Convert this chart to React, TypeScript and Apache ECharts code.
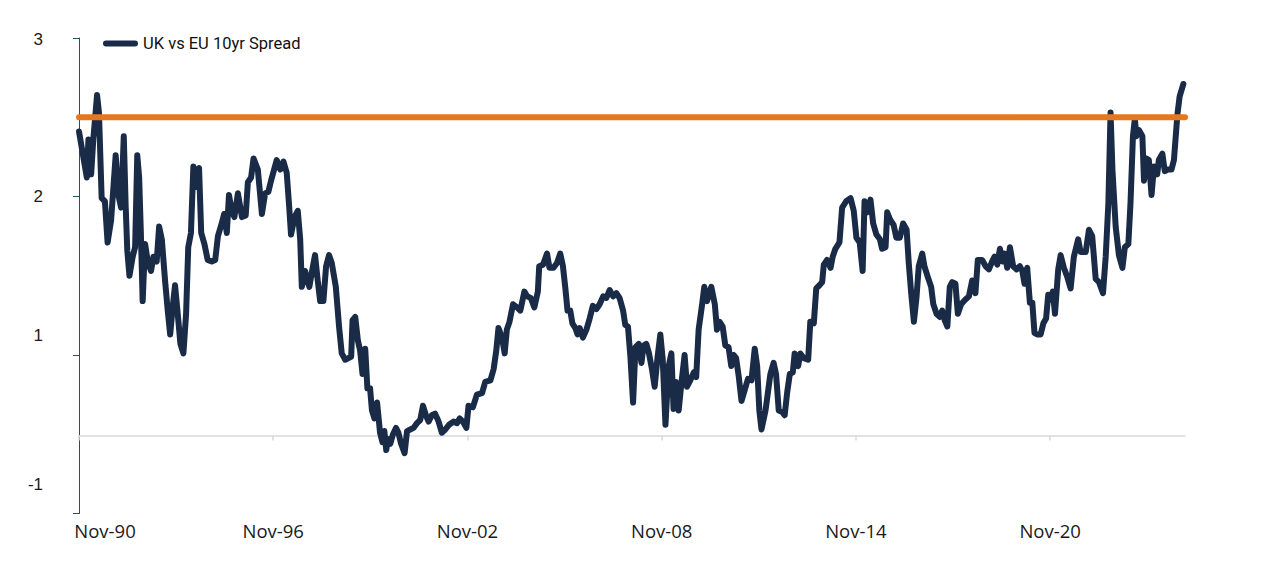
import React, { useEffect, useRef } from "react";
import * as echarts from "echarts";

// x = months since Nov-1990, y = spread (pct points)
const spread1990s: [number, number][] = [
  [0, 2.41], [2.9, 2.12], [3.5, 2.36], [4.5, 2.14], [5.3, 2.36], [6.7, 2.64], [7.4, 2.53], [8.4, 1.99], [9.6, 1.97], [10.6, 1.71],
  [11.9, 1.85], [13.6, 2.26], [14.6, 2.01], [15.6, 1.93], [16.6, 2.38], [17.3, 1.94], [17.9, 1.66], [18.7, 1.5], [19.9, 1.62], [20.8, 1.68],
  [21.6, 2.26], [22.3, 2.12], [22.9, 1.79], [23.6, 1.34], [24.5, 1.7], [25.5, 1.59], [26.7, 1.53], [27.6, 1.62], [28.8, 1.59], [29.7, 1.81],
  [30.7, 1.73], [31.9, 1.47], [32.9, 1.28], [33.8, 1.13], [34.6, 1.28], [35.6, 1.44], [36.6, 1.26], [37.6, 1.07], [38.7, 1.01], [39.7, 1.26],
  [40.5, 1.68], [41.5, 1.77], [42.4, 2.19], [43.3, 2.06], [44.5, 2.18], [45.3, 1.77], [46.5, 1.7], [47.7, 1.6], [49.2, 1.59], [50.5, 1.6],
  [51.5, 1.75], [52.9, 1.83], [53.8, 1.89], [54.8, 1.77], [55.6, 2.01], [56.6, 1.91], [57.6, 1.87], [58.9, 2.02], [60.4, 1.87], [61.8, 1.88],
  [62.6, 2.09], [63.8, 2.12], [64.7, 2.24], [66.3, 2.17], [67.8, 1.89], [69.0, 2.02], [70.2, 2.03], [71.2, 2.1], [73.3, 2.23],
];

const spreadLate90s: [number, number][] = [
  [74.6, 2.17], [75.8, 2.22], [77.0, 2.15], [77.9, 1.94], [78.6, 1.76], [79.9, 1.87], [81.1, 1.91], [82.0, 1.73], [82.6, 1.43], [83.8, 1.53],
  [85.4, 1.43], [86.3, 1.52], [87.5, 1.63], [88.5, 1.47], [89.4, 1.34], [90.6, 1.34], [91.6, 1.56], [92.7, 1.63], [93.7, 1.58], [95.2, 1.43],
  [96.4, 1.18], [97.4, 1.01], [98.7, 0.97], [99.9, 0.98], [100.9, 0.99], [101.4, 1.22], [102.4, 1.24], [103.4, 1.09], [104.2, 1.03], [105.1, 0.88],
  [106.1, 1.04], [106.9, 0.79], [107.9, 0.79], [108.6, 0.65], [109.5, 0.6], [110.5, 0.7], [111.6, 0.51], [112.5, 0.45], [113.2, 0.52], [113.9, 0.4],
  [114.5, 0.47], [115.4, 0.44], [116.4, 0.5], [117.5, 0.54], [118.4, 0.51], [119.4, 0.44], [120.7, 0.38], [121.6, 0.52], [122.8, 0.53], [124.0, 0.54],
  [125.3, 0.57], [126.5, 0.59], [127.5, 0.68], [128.6, 0.62], [129.6, 0.58], [130.8, 0.62], [132.0, 0.63], [133.3, 0.58], [134.5, 0.51], [135.8, 0.53],
  [137.2, 0.56], [138.8, 0.58], [140.1, 0.57], [141.1, 0.6], [142.3, 0.58], [143.6, 0.54], [144.4, 0.68],
];

const spread2000s: [number, number][] = [
  [146.0, 0.67], [147.5, 0.75], [149.4, 0.76], [150.6, 0.83], [152.5, 0.84], [153.7, 0.91], [154.7, 1.03], [155.5, 1.17], [156.8, 1.11], [157.8, 1.01],
  [158.6, 1.16], [159.6, 1.21], [160.9, 1.32], [162.4, 1.3], [163.6, 1.28], [165.1, 1.4], [166.1, 1.37], [167.5, 1.36], [168.8, 1.3], [170.1, 1.4],
  [170.6, 1.56], [172.0, 1.57], [173.5, 1.64], [174.4, 1.55], [175.9, 1.55], [177.2, 1.58], [178.4, 1.64], [179.4, 1.56], [180.3, 1.42], [181.1, 1.28],
  [182.1, 1.28], [182.9, 1.2], [184.0, 1.17], [184.8, 1.13], [185.6, 1.17], [186.8, 1.11], [188.1, 1.16], [189.3, 1.23], [190.5, 1.31], [191.8, 1.29],
  [193.0, 1.32], [194.3, 1.37], [195.5, 1.36], [196.7, 1.41], [198.0, 1.37], [199.2, 1.39], [200.4, 1.36], [201.7, 1.28], [202.5, 1.19], [203.5, 1.18],
  [204.4, 0.99], [205.4, 0.7], [206.3, 1.05], [207.5, 1.07], [208.5, 0.95], [209.3, 1.06], [210.3, 1.07], [211.3, 1.01], [212.4, 0.91], [213.4, 0.8],
  [214.5, 0.99], [215.5, 1.13], [216.4, 0.97], [217.4, 0.56],
];

const spread2010s: [number, number][] = [
  [218.6, 0.93], [219.6, 1.01], [220.4, 0.66], [221.3, 0.83], [222.3, 0.65], [223.3, 0.82], [224.5, 1.0], [225.4, 0.8], [226.6, 0.84], [227.9, 0.89],
  [228.8, 0.86], [229.7, 1.16], [231.0, 1.32], [231.8, 1.43], [232.8, 1.34], [234.4, 1.43], [235.7, 1.32], [236.5, 1.16], [237.5, 1.21], [238.6, 1.18],
  [239.6, 1.06], [240.8, 1.05], [241.8, 0.93], [242.7, 1.0], [243.6, 0.98], [244.6, 0.86], [245.6, 0.71], [246.8, 0.78], [248.0, 0.85], [249.3, 0.84],
  [250.5, 1.04], [251.4, 0.93], [252.2, 0.65], [253.0, 0.53], [254.5, 0.65], [256.3, 0.88], [257.5, 0.95], [258.4, 0.88], [259.4, 0.65], [260.7, 0.64],
  [261.6, 0.62], [262.5, 0.76], [263.5, 0.88], [264.6, 0.89], [265.3, 1.01], [266.6, 0.93], [267.4, 1.01], [268.7, 0.98], [270.3, 0.97], [271.1, 1.21],
  [272.4, 1.2], [273.3, 1.42], [274.5, 1.44], [275.5, 1.46], [276.1, 1.57], [277.3, 1.6], [278.6, 1.55], [279.4, 1.62], [280.4, 1.67], [281.9, 1.71],
  [282.9, 1.93], [284.4, 1.97], [286.0, 1.99], [287.2, 1.91], [288.2, 1.74], [289.4, 1.71], [290.5, 1.53], [291.2, 1.97],
];

const spreadLate10s: [number, number][] = [
  [292.2, 1.9], [293.4, 1.98], [294.4, 1.83], [295.6, 1.76], [296.9, 1.73], [297.7, 1.67], [299.0, 1.68], [299.6, 1.9], [300.8, 1.85], [302.0, 1.82],
  [303.0, 1.74], [304.3, 1.74], [305.5, 1.83], [306.8, 1.79], [307.6, 1.58], [308.5, 1.39], [309.5, 1.21], [310.5, 1.37], [311.3, 1.56], [312.6, 1.64],
  [313.4, 1.56], [314.7, 1.49], [315.9, 1.43], [316.7, 1.32], [317.9, 1.26], [319.1, 1.24], [320.0, 1.28], [320.9, 1.22], [321.9, 1.18], [322.8, 1.43],
  [323.7, 1.46], [324.9, 1.45], [325.8, 1.26], [327.0, 1.32], [328.6, 1.35], [329.9, 1.37], [331.1, 1.47], [332.3, 1.39], [333.2, 1.6], [334.8, 1.6],
  [336.1, 1.56], [337.3, 1.54], [338.5, 1.59], [339.4, 1.62], [340.4, 1.57], [341.4, 1.67], [342.3, 1.59], [343.1, 1.64], [344.1, 1.55], [345.1, 1.68],
  [346.3, 1.56], [347.6, 1.54], [348.8, 1.56], [349.7, 1.53], [350.5, 1.45], [351.5, 1.55], [352.5, 1.33], [353.4, 1.33], [354.2, 1.14], [355.2, 1.13],
  [356.5, 1.13], [357.5, 1.2], [358.5, 1.23], [359.3, 1.38], [360.2, 1.35], [361.0, 1.4], [361.8, 1.26],
];

const spread2020s: [number, number][] = [
  [363.0, 1.54], [363.9, 1.63], [365.1, 1.55], [366.4, 1.49], [367.6, 1.42], [368.8, 1.62], [370.4, 1.73], [371.3, 1.65], [373.2, 1.65], [374.4, 1.79],
  [375.6, 1.75], [376.9, 1.48], [378.1, 1.46], [379.6, 1.39], [380.6, 1.62], [381.6, 1.96], [382.4, 2.53], [383.1, 2.17], [384.3, 1.81], [385.5, 1.63],
  [386.8, 1.55], [387.7, 1.68], [389.0, 1.7], [389.8, 1.96], [390.7, 2.38], [391.4, 2.49], [392.0, 2.38], [392.9, 2.42], [394.2, 2.38], [394.8, 2.1],
  [395.7, 2.24], [396.6, 2.23], [397.6, 2.01], [398.5, 2.19], [399.7, 2.14], [400.3, 2.23], [401.6, 2.27], [402.5, 2.16], [403.5, 2.17], [405.0, 2.17],
  [405.9, 2.23], [407.2, 2.52], [408.0, 2.63], [409.4, 2.71],
];

const seriesName = "UK vs EU 10yr Spread";
const threshold = 2.5;
const xTickMonths = [0, 72, 144, 216, 288, 360];
const xTickLabels = ["Nov-90", "Nov-96", "Nov-02", "Nov-08", "Nov-14", "Nov-20"];
const yTickValues = [0, 1, 2, 3];
const yTickLabels = ["-1", "1", "2", "3"];
const xMax = 410;

const NAVY = "#1A2B47";
const ORANGE = "#E8771C";
const AXIS_TEAL = "#22515F";
const GRAY = "#D9D9D9";

export default function App() {
  const ref = useRef<HTMLDivElement>(null);

  useEffect(() => {
    if (!ref.current) return;
    const chart = echarts.init(ref.current, undefined, { renderer: "svg" });
    const spread = [
      ...spread1990s,
      ...spreadLate90s,
      ...spread2000s,
      ...spread2010s,
      ...spreadLate10s,
      ...spread2020s,
    ];
    const yRichKey = ["b", "u", "m", "t"];
    const labelFont = { fontFamily: "Liberation Sans", fontSize: 17, color: "#1a1a1a" };
    const xFont = { fontFamily: "Open Sans", fontSize: 18.5, color: "#1a1a1a" };

    chart.setOption({
      animation: false,
      backgroundColor: "#ffffff",
      grid: { left: 79, right: 78, top: 38, bottom: 50.5, containLabel: false },
      legend: {
        show: true,
        data: [seriesName],
        left: 103,
        top: 35,
        padding: 0,
        icon: "path://M3,0 H32 A3,3 0 0 1 32,6 H3 A3,3 0 0 1 3,0 Z",
        itemWidth: 35,
        itemHeight: 7,
        textStyle: { fontFamily: "Roboto", fontSize: 16.5, color: "#111111" },
      },
      xAxis: [
        {
          type: "value",
          min: 0,
          max: xMax,
          position: "bottom",
          axisLine: { show: false, onZero: false },
          axisTick: { show: false },
          splitLine: { show: false },
          axisLabel: {
            customValues: xTickMonths,
            margin: 7,
            ...xFont,
            formatter: (v: number) => {
              const i = xTickMonths.indexOf(v);
              if (i < 0) return "";
              return i === 0 ? `{f|${xTickLabels[i]}}` : xTickLabels[i];
            },
            rich: {
              f: { ...xFont, padding: [0, 0, 0, 52] },
            },
          },
        },
        {
          type: "value",
          min: 0,
          max: xMax,
          position: "bottom",
          offset: -78,
          axisLine: { show: true, onZero: false, lineStyle: { color: GRAY, width: 1.5 } },
          axisTick: { show: true, customValues: xTickMonths, length: 5, lineStyle: { color: GRAY, width: 1.5 } },
          axisLabel: { show: false },
          splitLine: { show: false },
        },
      ],
      yAxis: {
        type: "value",
        min: 0,
        max: 3,
        interval: 1,
        axisLine: { show: true, onZero: false, lineStyle: { color: AXIS_TEAL, width: 1 } },
        axisTick: { show: true, length: 6, lineStyle: { color: AXIS_TEAL, width: 1 } },
        splitLine: { show: false },
        axisLabel: {
          margin: 36,
          ...labelFont,
          formatter: (v: number) => {
            const i = yTickValues.indexOf(v);
            if (i < 0) return "";
            return `{${yRichKey[i]}|${yTickLabels[i]}}`;
          },
          rich: {
            t: { ...labelFont, padding: [3, 0, 0, 0] },
            m: { ...labelFont },
            u: { ...labelFont, padding: [0, 0, 40, 0] },
            b: { ...labelFont, padding: [0, 0, 58, 0] },
          },
        },
      },
      series: [
        {
          name: seriesName,
          type: "line",
          xAxisIndex: 0,
          data: spread,
          showSymbol: false,
          symbol: "none",
          lineStyle: { color: NAVY, width: 6, cap: "round", join: "round" },
          itemStyle: { color: NAVY },
          z: 3,
        },
        {
          name: "Threshold",
          type: "line",
          xAxisIndex: 0,
          data: [
            [0, threshold],
            [xMax, threshold],
          ],
          showSymbol: false,
          symbol: "none",
          lineStyle: { color: ORANGE, width: 6, cap: "round" },
          itemStyle: { color: ORANGE },
          z: 4,
        },
      ],
    });

    return () => chart.dispose();
  }, []);

  return (
    <div
      ref={ref}
      style={{ position: "absolute", left: 0, top: 0, width: 1263, height: 564, background: "#fff" }}
    />
  );
}
